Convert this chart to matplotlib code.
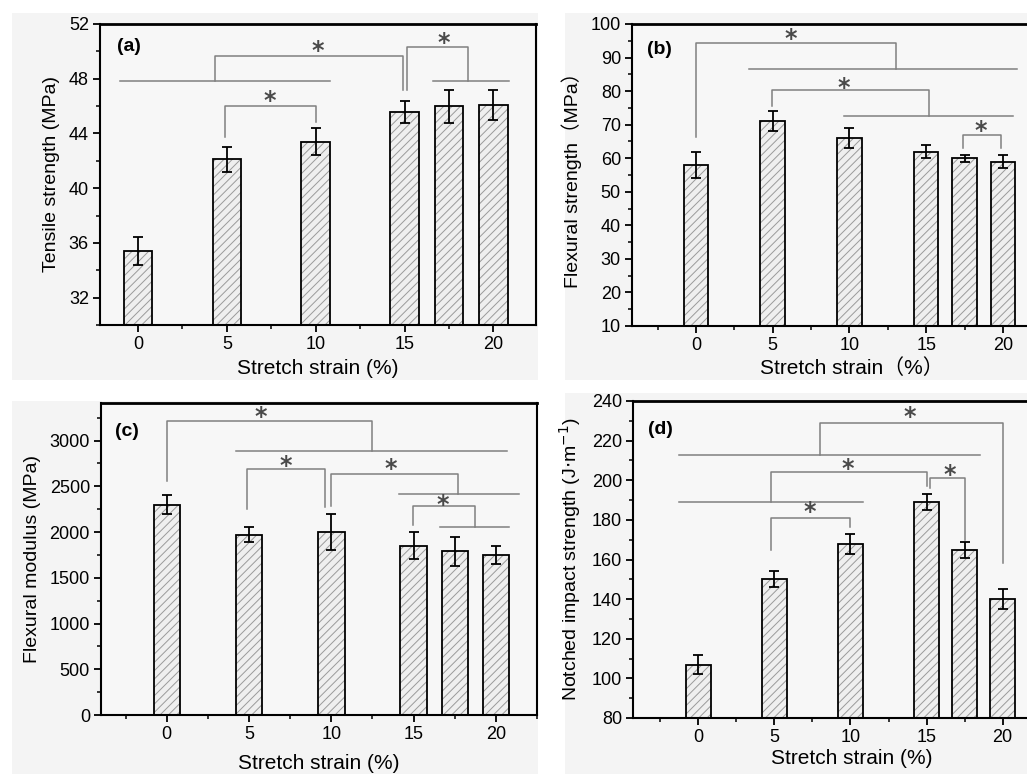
import matplotlib
matplotlib.use("Agg")
import matplotlib.pyplot as plt
from matplotlib.patches import Rectangle
from matplotlib.ticker import MultipleLocator, FixedLocator

plt.rcParams['font.family'] = ['Liberation Sans', 'Noto Sans CJK SC', 'DejaVu Sans']
plt.rcParams['hatch.linewidth'] = 0.7
plt.rcParams['hatch.color'] = '#9a9a9a'

# --- data ---
strain = [0, 5, 10, 15, 17.5, 20]
strain_ticks = [0, 5, 10, 15, 20]

tensile = [35.4, 42.1, 43.4, 45.6, 46.0, 46.1]
tensile_err = [1.0, 0.9, 1.0, 0.8, 1.2, 1.1]

flex_strength = [58, 71, 66, 62, 60, 59]
flex_strength_err = [4, 3, 3, 2, 1, 2]

flex_modulus = [2300, 1970, 2000, 1850, 1790, 1750]
flex_modulus_err = [100, 80, 200, 150, 160, 100]

impact = [107, 150, 168, 189, 165, 140]
impact_err = [5, 4, 5, 4, 4, 5]

# significance marks: group lines (x1, x2, y), brackets (x1, y1, x2, y2, top), stars (x, y)
sig_a = dict(lines=[(-1.0, 10.8, 47.85), (16.6, 20.9, 47.85)],
             brackets=[(4.36, 47.85, 14.94, 47.2, 49.68), (15.13, 47.2, 18.6, 47.85, 50.3),
                       (4.89, 43.75, 10.0, 44.85, 46.0)],
             stars=[(10.1, 50.35), (17.2, 50.95), (7.4, 46.7)])
sig_b = dict(lines=[(3.45, 20.9, 86.5), (9.66, 20.66, 72.7)],
             brackets=[(0, 66.4, 13.0, 86.5, 94.2), (4.93, 75.6, 15.2, 72.7, 80.3),
                       (17.4, 63, 19.9, 63, 67)],
             stars=[(6.2, 96.7), (9.6, 82.2), (18.55, 69.4)])
sig_c = dict(lines=[(4.23, 20.7, 2883), (14.1, 21.4, 2420), (16.6, 20.8, 2051)],
             brackets=[(0, 2555, 12.5, 2883, 3212), (4.88, 2252, 9.6, 2274, 2690),
                       (9.96, 2281, 17.7, 2420, 2636), (14.96, 2073, 18.76, 2051, 2281)],
             stars=[(5.7, 3300), (7.2, 2770), (13.6, 2738), (16.8, 2336)])
sig_d = dict(lines=[(-1.25, 18.5, 212.6), (-1.25, 10.8, 189.2)],
             brackets=[(8.0, 212.6, 20.0, 158.4, 229), (4.8, 189.2, 15.05, 197, 204),
                       (15.24, 196, 17.5, 169.8, 201), (4.8, 164.8, 10.0, 176.5, 180.8)],
             stars=[(13.9, 234), (9.8, 207.7), (16.5, 205), (7.3, 186)])

W, H = 1027, 774
fig = plt.figure(figsize=(W / 100, H / 100), dpi=100)
fig.patch.set_facecolor('white')

PANEL_BG = '#f4f4f4'
SIG_COLOR = '#808080'


def px_box(left, top, right, bottom):
    return [left / W, 1 - bottom / H, (right - left) / W, (bottom - top) / H]


# light panel backgrounds
for (l, t, r, b) in [(12, 13, 538, 380), (565, 13, 1027, 380),
                     (12, 401, 538, 774), (565, 393, 1027, 774)]:
    fig.add_artist(Rectangle((l / W, 1 - b / H), (r - l) / W, (b - t) / H,
                             transform=fig.transFigure, facecolor=PANEL_BG,
                             edgecolor='none', zorder=0))


def draw_panel(box, values, errors, xlim, ylim, ymajor, yminor, ylabel, xlabel,
               tag, tag_pos, sig, xpad=4, ytick_max=None):
    ax = fig.add_axes(px_box(*box))
    ax.set_facecolor('#f7f7f7')
    ax.bar(strain, values, width=1.6, color='#efefef', hatch='////',
           edgecolor='#9a9a9a', linewidth=0, zorder=2)
    ax.bar(strain, values, width=1.6, fill=False, edgecolor='black',
           linewidth=1.3, zorder=3)
    ax.errorbar(strain, values, yerr=errors, fmt='none', ecolor='black',
                elinewidth=1.3, capsize=3.3, capthick=1.3, zorder=4)

    for x1, x2, y in sig['lines']:
        ax.plot([x1, x2], [y, y], color=SIG_COLOR, lw=1.1, zorder=5)
    for x1, y1, x2, y2, top in sig['brackets']:
        ax.plot([x1, x1, x2, x2], [y1, top, top, y2], color=SIG_COLOR, lw=1.1, zorder=5)
    for x, y in sig['stars']:
        # asterisk glyph sits high in its line box, nudge it down
        ax.annotate('*', (x, y), xytext=(0, -3), textcoords='offset points',
                    ha='center', va='center', fontsize=17, fontweight='bold',
                    color='#4a4a4a', family='DejaVu Sans', zorder=6)

    ax.set_xlim(*xlim)
    ax.set_ylim(*ylim)
    ax.xaxis.set_major_locator(FixedLocator(strain_ticks))
    ax.xaxis.set_minor_locator(MultipleLocator(2.5))
    ax.yaxis.set_major_locator(MultipleLocator(ymajor))
    ax.yaxis.set_minor_locator(MultipleLocator(yminor))
    if ytick_max is not None:
        ticks = [t for t in ax.get_yticks() if ylim[0] <= t <= ytick_max]
        ax.set_yticks(ticks)
        ax.yaxis.set_minor_locator(MultipleLocator(yminor))
    ax.tick_params(which='major', direction='out', length=5, width=1.3,
                   labelsize=13, colors='black', pad=3)
    ax.tick_params(which='minor', direction='out', length=3, width=1.1)
    for s in ax.spines.values():
        s.set_linewidth(1.5)
    ax.spines['top'].set_linewidth(2.0)
    ax.set_ylabel(ylabel, fontsize=14, labelpad=6)
    ax.set_xlabel(xlabel, fontsize=15, labelpad=xpad)
    ax.text(tag_pos[0], tag_pos[1], tag, transform=ax.transAxes, fontsize=14,
            fontweight='bold', ha='left', va='center')
    return ax


draw_panel((100, 24, 536, 325), tensile, tensile_err, (-2.14, 22.4), (30, 52), 4, 2,
           'Tensile strength (MPa)', 'Stretch strain (%)', '(a)', (0.038, 0.925), sig_a,
           xpad=4)

draw_panel((632, 24, 1072, 326), flex_strength, flex_strength_err, (-4.17, 24.5), (10, 100), 10, 5,
           'Flexural strength（MPa）', 'Stretch strain（%）', '(b)', (0.033, 0.914), sig_b,
           xpad=3)

draw_panel((101, 403, 537, 715), flex_modulus, flex_modulus_err, (-4.0, 22.5), (0, 3410), 500, 250,
           'Flexural modulus (MPa)', 'Stretch strain (%)', '(c)', (0.032, 0.908), sig_c,
           xpad=8, ytick_max=3000)

draw_panel((633, 401, 1071, 718), impact, impact_err, (-4.3, 24.5), (80, 240), 20, 10,
           r'Notched impact strength (J$\cdot$m$^{-1}$)', 'Stretch strain (%)', '(d)',
           (0.034, 0.909), sig_d, xpad=2)

fig.savefig('out.png', dpi=100, facecolor=fig.get_facecolor())
